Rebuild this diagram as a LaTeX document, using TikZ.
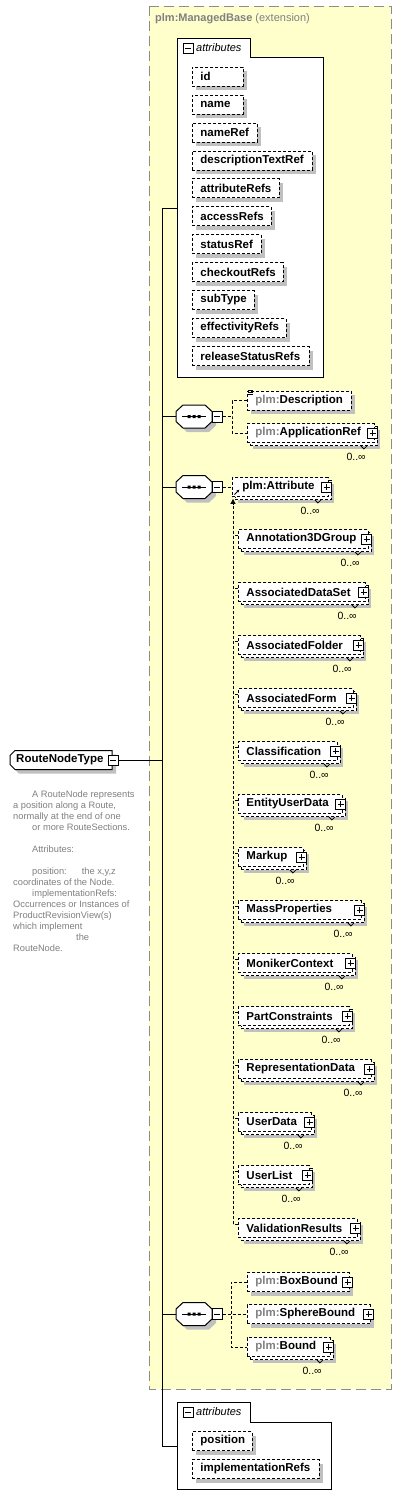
\documentclass[tikz,border=0pt]{standalone}
\usepackage{fontspec}
\setmainfont{Liberation Sans}
\usetikzlibrary{shadows,arrows.meta,calc}
\definecolor{bgyellow}{RGB}{255,255,204}
\definecolor{shadowgray}{RGB}{192,192,192}
\definecolor{framegray}{RGB}{140,140,140}
\definecolor{pfxgray}{RGB}{128,128,128}
\definecolor{docgray}{RGB}{128,128,128}
\newcommand\pfx{\textcolor{pfxgray}{plm:}}
\tikzset{
  conn/.style={draw=black, line width=1pt},
  dconn/.style={draw=black, line width=1pt, dash pattern=on 3pt off 2pt},
  elembase/.style={draw=black, dash pattern=on 3pt off 2pt, line width=0.9pt, fill=white, anchor=west,
    minimum height=19pt, inner ysep=0pt, inner xsep=8pt, align=left,
    font=\fontsize{11.5}{13}\selectfont\bfseries},
  single/.style={elembase, drop shadow={shadow xshift=4pt, shadow yshift=-4pt, fill=shadowgray, draw=none, opacity=1}},
  multi/.style={elembase,
    drop shadow={shadow xshift=6pt, shadow yshift=-6pt, fill=shadowgray, draw=none, opacity=1},
    copy shadow={shadow xshift=3pt, shadow yshift=-3pt, draw=black, fill=white, dash pattern=on 3pt off 2pt, opacity=1}},
  iconbox/.style={draw=black, solid, line width=0.9pt, fill=white, minimum width=10pt, minimum height=10pt, inner sep=0pt},
  plusbox/.style={iconbox, path picture={
    \draw[line width=0.9pt, solid] ([xshift=2pt]path picture bounding box.west) -- ([xshift=-2pt]path picture bounding box.east)
      ([yshift=2pt]path picture bounding box.south) -- ([yshift=-2pt]path picture bounding box.north);}},
  minusbox/.style={iconbox, path picture={
    \draw[line width=0.9pt, solid] ([xshift=2pt]path picture bounding box.west) -- ([xshift=-2pt]path picture bounding box.east);}},
  mult/.style={anchor=east, inner sep=0pt, font=\fontsize{10.5}{12}\selectfont},
  notch/.style={draw=black, line width=0.8pt},
  seqnode/.style={minimum width=36pt, minimum height=23pt, inner sep=0pt},
  tabtext/.style={anchor=west, inner sep=0pt, font=\fontsize{11}{13}\selectfont\itshape},
}
\begin{document}
\begin{tikzpicture}[x=1pt, y=-1pt]
\useasboundingbox (0,0) rectangle (402,1507);
\fill[white] (0,0) rectangle (402,1507);

% extension frame
\draw[framegray, line width=1pt, dash pattern=on 10pt off 5pt, fill=bgyellow] (149,6) rectangle (391,1389);
\node[anchor=west, inner sep=0pt, text=pfxgray, font=\fontsize{11}{13}\selectfont] (title) at (155,19)
  {\textbf{plm:ManagedBase} (extension)};

% coordinates of the trunk
\coordinate (trunk) at (162,760);
\coordinate (a1c) at (177,208);
\coordinate (a2c) at (177,1446);
\coordinate (sv) at (233,0);

% root type
\fill[shadowgray] (19,754.5) -- (116,754.5) -- (116,773.5) -- (19,773.5) -- (14,768.5) -- (14,759.5) -- cycle;
\draw[conn, fill=white] (15,750.5) -- (112,750.5) -- (112,769.5) -- (15,769.5) -- (10,764.5) -- (10,755.5) -- cycle;
\node[anchor=west, inner xsep=6pt, inner ysep=0pt, minimum height=19pt, text width=90pt, align=left,
  font=\fontsize{11.5}{13}\selectfont\bfseries] (rnt) at (10,760) {RouteNodeType};
\node[minusbox] (rntm) at (113,760) {};

\node[anchor=north west, inner sep=0pt, align=left, text=docgray, font=\fontsize{9.3}{11}\selectfont] (doc) at (13,791) {%
\hspace*{19pt}A RouteNode represents\\
a position along a Route,\\
normally at the end of one\\
\hspace*{19pt}or more RouteSections.\\
\mbox{}\\
\hspace*{19pt}Attributes:\\
\mbox{}\\
\hspace*{19pt}position:\hspace{15pt}the x,y,z\\
coordinates of the Node.\\
\hspace*{19pt}implementationRefs:\\
Occurrences or Instances of\\
ProductRevisionView(s)\\
which implement\\
\hspace*{63pt}the\\
RouteNode.};

% sequence compositors
\foreach \nm/\yc in {s1/416.5, s2/487, s3/1314}{
  \fill[shadowgray, shift={(198,\yc+4)}] (-18,-5) -- (-11,-11.5) -- (11,-11.5) -- (18,-5) -- (18,5) -- (11,11.5) -- (-11,11.5) -- (-18,5) -- cycle;
  \draw[conn, fill=white, shift={(194,\yc)}] (-18,-5) -- (-11,-11.5) -- (11,-11.5) -- (18,-5) -- (18,5) -- (11,11.5) -- (-11,11.5) -- (-18,5) -- cycle;
  \draw[conn, shift={(194,\yc)}] (-12,0) -- (12,0);
  \fill[shift={(194,\yc)}] (-6.5,-1.5) rectangle (-3.5,1.5) (-1.5,-1.5) rectangle (1.5,1.5) (3.5,-1.5) rectangle (6.5,1.5);
  \node[seqnode] (\nm) at (194,\yc) {};
  \node[minusbox, minimum height=11pt] (\nm m) at ($(\nm.east)+(5,0)$) {};
}

% trunk connectors
\draw[conn] (rntm.east) -- (trunk);
\draw[conn] (a1c) -| (trunk);
\draw[conn] (a2c) -| (trunk);
\draw[conn] (s1.west) -- (s1.west -| trunk);
\draw[conn] (s2.west) -- (s2.west -| trunk);
\draw[conn] (s3.west) -- (s3.west -| trunk);

% attributes container 1
\draw[conn, fill=white] (177,377) -- (177,38) -- (250,38) -- (250,57) -- (323,57) -- (323,377) -- cycle;
\node[minusbox] (am1) at (188,48) {};
\node[tabtext] (at1) at (196,48) {attributes};
\foreach \nm/\yc/\tw in {id/76.5/35, name/104.5/35, nameRef/132.5/49, descriptionTextRef/160.5/104,
  attributeRefs/188/71, accessRefs/216/63, statusRef/244/53, checkoutRefs/272/75, subType/300/46,
  effectivityRefs/328/78, releaseStatusRefs/356/101}{
  \node[single, text width=\tw pt] (att-\nm) at (192,\yc) {\nm};
}

% sequence 1
\coordinate (b1) at (232,416.5);
\node[single, text width=88pt] (desc) at (247,400.5) {\pfx Description};
\draw[line width=0.9pt] (248,390) -- (253,390) (248,392) -- (253,392) (248,394) -- (253,394);
\node[multi, text width=111pt] (apref) at (247,433) {\pfx ApplicationRef};
\node[plusbox] (apref p) at ([xshift=-2pt]apref.east) {};
\node[mult] (apref m) at ($(apref.east)+(-9,24)$) {0..∞};
\draw[notch] ($(apref.south east)+(-14,3)$) -- ($(apref.south east)+(-11,6)$) -- ($(apref.south east)+(-8,3)$);
\draw[dconn] (s1m.east) -- (b1);
\draw[dconn] (desc.west) -| (b1) |- (apref.west);

% sequence 2 : substitution group
\node[multi, inner xsep=10pt, text width=76pt] (pattr) at (232,487) {plm:Attribute};
\node[plusbox] (pattr p) at ([xshift=-2pt]pattr.east) {};
\node[mult] (pattr m) at ($(pattr.east)+(-9,24)$) {0..∞};
\draw[notch] ($(pattr.south east)+(-14,3)$) -- ($(pattr.south east)+(-11,6)$) -- ($(pattr.south east)+(-8,3)$);
\draw[line width=1pt, -{Latex[length=3pt,width=3pt]}] (234.5,494.5) -- (239.5,489.5);
\draw[dconn] (s2m.east) -- (pattr.west);

\foreach \i/\nm/\w in {0/Annotation3DGroup/130, 1/AssociatedDataSet/127, 2/AssociatedFolder/122,
  3/AssociatedForm/115, 4/Classification/99, 5/EntityUserData/104, 6/Markup/65, 7/MassProperties/123,
  8/MonikerContext/114, 9/PartConstraints/111, 10/RepresentationData/133, 11/UserData/73,
  12/UserList/71, 13/ValidationResults/119}{
  \pgfmathsetmacro\yc{539+53*\i}
  \pgfmathsetmacro\tw{\w-16}
  \node[multi, text width=\tw pt] (e\i) at (238,\yc) {\nm};
  \node[plusbox] (ep\i) at ([xshift=-2pt]e\i.east) {};
  \node[mult] (em\i) at ($(e\i.east)+(-9,24)$) {0..∞};
  \draw[notch] ($(e\i.south east)+(-14,3)$) -- ($(e\i.south east)+(-11,6)$) -- ($(e\i.south east)+(-8,3)$);
  \draw[dconn] ([yshift=4pt]e\i.west) -- ([yshift=4pt]e\i.west -| sv);
}
\draw[dconn, -{Triangle[length=5pt,width=5pt]}] ([yshift=4pt]e13.west -| sv) -- ([yshift=-2pt]pattr.south west -| sv);

% sequence 3
\coordinate (b3) at (231,1314);
\node[single, text width=86pt] (boxb) at (247,1282) {\pfx BoxBound};
\node[plusbox] (boxb p) at ([xshift=-2pt]boxb.east) {};
\node[single, text width=107pt] (sphb) at (247,1314) {\pfx SphereBound};
\node[plusbox] (sphb p) at ([xshift=-2pt]sphb.east) {};
\node[multi, text width=67pt] (bound) at (247,1347) {\pfx Bound};
\node[plusbox] (bound p) at ([xshift=-2pt]bound.east) {};
\node[mult] (bound m) at ($(bound.east)+(-9,24)$) {0..∞};
\draw[notch] ($(bound.south east)+(-14,3)$) -- ($(bound.south east)+(-11,6)$) -- ($(bound.south east)+(-8,3)$);
\draw[dconn] (s3m.east) -- (sphb.west);
\draw[dconn] (boxb.west) -| (b3) |- (bound.west);

% attributes container 2
\draw[conn, fill=white] (177,1489) -- (177,1402) -- (250,1402) -- (250,1422) -- (331,1422) -- (331,1489) -- cycle;
\node[minusbox] (am2) at (188,1412) {};
\node[tabtext] (at2) at (196,1412) {attributes};
\node[single, text width=44pt] (att-position) at (192,1441) {position};
\node[single, text width=111pt] (att-impl) at (192,1469) {implementationRefs};
\end{tikzpicture}
\end{document}
